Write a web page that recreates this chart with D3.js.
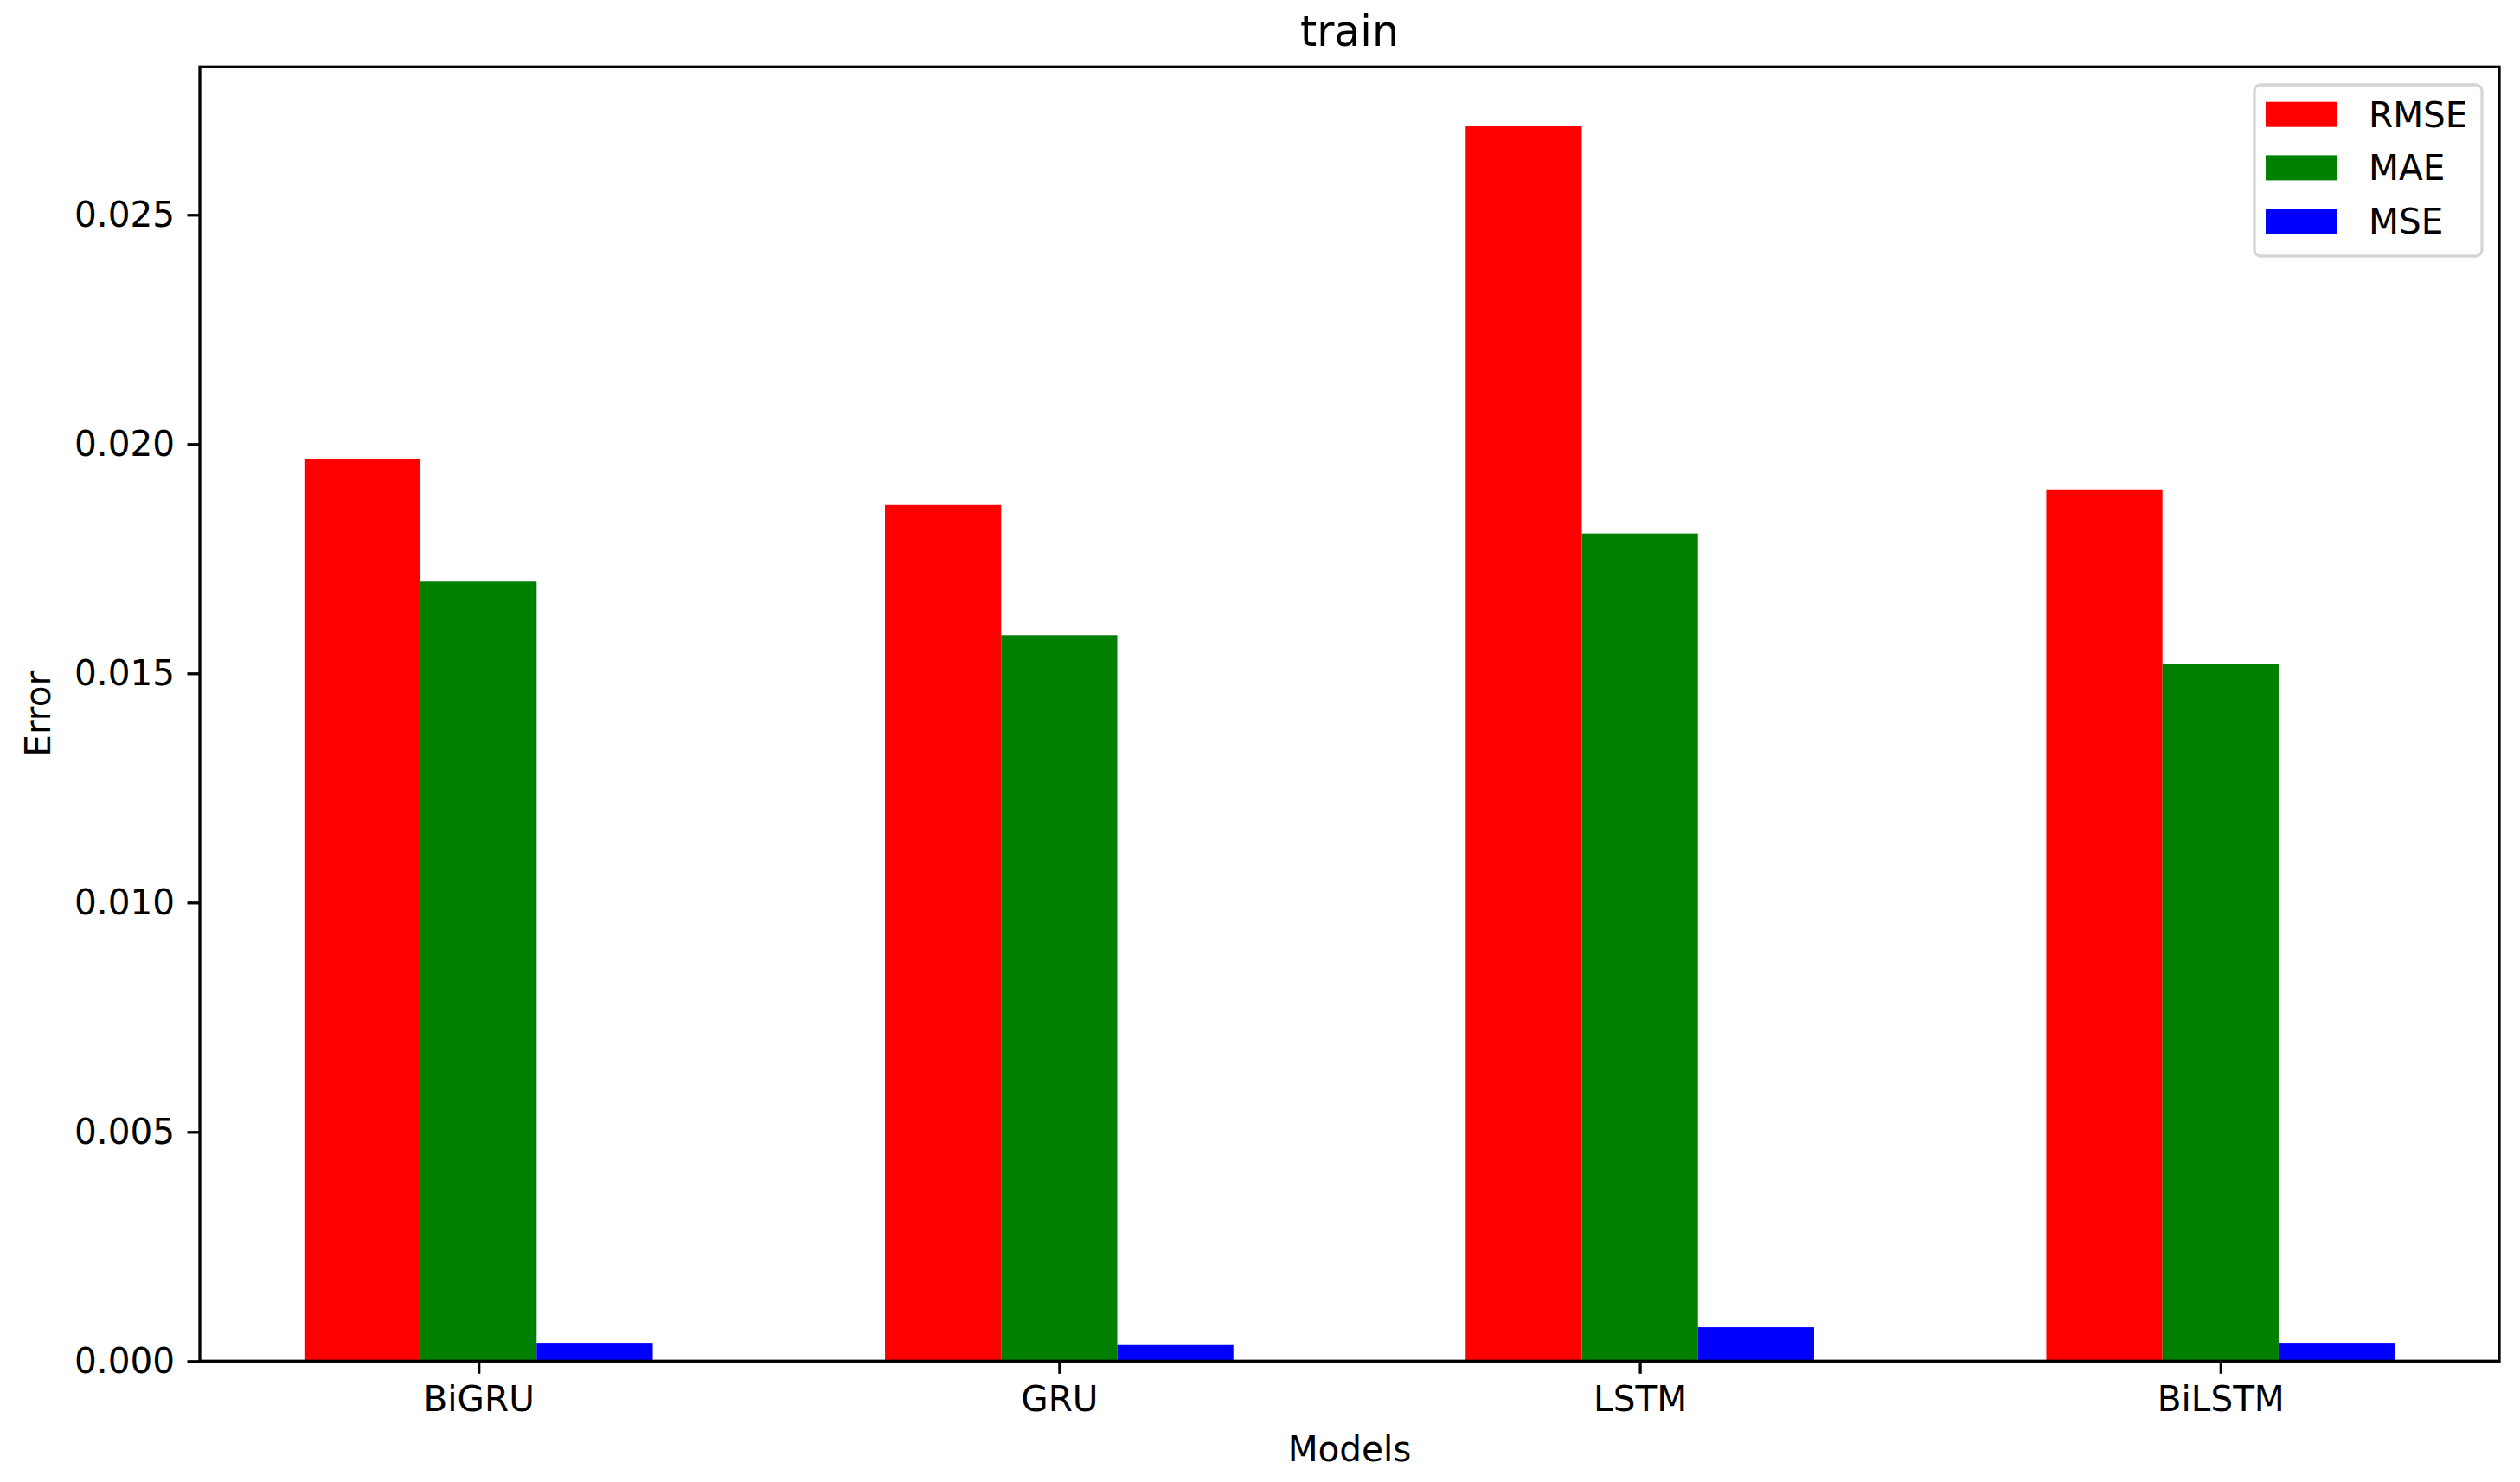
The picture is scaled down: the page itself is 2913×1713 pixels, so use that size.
<!DOCTYPE html>
<html>
<head>
<meta charset="utf-8">
<script src="https://cdn.jsdelivr.net/npm/d3@7"></script>
<style>
  html, body { margin: 0; padding: 0; background: #fff; }
  svg { display: block; font-family: "DejaVu Sans", sans-serif; }
</style>
</head>
<body>
<svg id="chart" width="2913" height="1713"></svg>
<script>
const categories = ["BiGRU", "GRU", "LSTM", "BiLSTM"];
const seriesNames = ["RMSE", "MAE", "MSE"];
const seriesColors = ["#ff0000", "#008000", "#0000ff"];
const rmseValues = [0.01967, 0.01867, 0.02693, 0.01901];
const maeValues = [0.01700, 0.01583, 0.01805, 0.01521];
const mseValues = [0.00040, 0.00035, 0.00074, 0.00040];
const yTicks = [0.000, 0.005, 0.010, 0.015, 0.020, 0.025];
const titleText = "train";
const xLabel = "Models";
const yLabel = "Error";

const series = [rmseValues, maeValues, mseValues];
const offsets = [-0.2, 0, 0.2];
const barW = 0.2;

const svg = d3.select("#chart");
const L = 231, R = 2889, T = 77.3, B = 1573.3;

const x = d3.scaleLinear().domain([-0.48, 3.48]).range([L, R]);
const y = d3.scaleLinear().domain([0, 0.028226]).range([B, T]);

// bars
const g = svg.append("g");
series.forEach((vals, si) => {
  g.selectAll(null)
    .data(vals)
    .enter()
    .append("rect")
    .attr("x", (d, i) => x(i + offsets[si] - barW / 2))
    .attr("width", (d, i) => x(i + offsets[si] + barW / 2) - x(i + offsets[si] - barW / 2))
    .attr("y", d => y(d))
    .attr("height", d => B - y(d))
    .attr("fill", seriesColors[si]);
});

// axes
const fs = 40.5;
const yAxis = d3.axisLeft(y).tickValues(yTicks).tickFormat(d3.format(".3f")).tickSize(14.5).tickPadding(14.5);
const yG = svg.append("g").attr("transform", `translate(${L},0)`).call(yAxis);
yG.select(".domain").remove();
yG.selectAll("line").attr("stroke", "#000").attr("stroke-width", 3.3);
yG.selectAll("text").attr("font-size", fs).attr("fill", "#000").attr("font-family", "DejaVu Sans");

const xAxis = d3.axisBottom(x).tickValues(categories.map((c, i) => i)).tickFormat(i => categories[i]).tickSize(14.5).tickPadding(14.5);
const xG = svg.append("g").attr("transform", `translate(0,${B})`).call(xAxis);
xG.select(".domain").remove();
xG.selectAll("line").attr("stroke", "#000").attr("stroke-width", 3.3);
xG.selectAll("text").attr("font-size", fs).attr("fill", "#000").attr("font-family", "DejaVu Sans");

// frame
svg.append("rect")
  .attr("x", L).attr("y", T).attr("width", R - L).attr("height", B - T)
  .attr("fill", "none").attr("stroke", "#000").attr("stroke-width", 3.3);

// title & labels
svg.append("text").attr("x", (L + R) / 2).attr("y", 53).attr("text-anchor", "middle")
  .attr("font-size", 49).attr("fill", "#000").text(titleText);
svg.append("text").attr("x", (L + R) / 2).attr("y", 1689).attr("text-anchor", "middle")
  .attr("font-size", fs).attr("fill", "#000").text(xLabel);
svg.append("text").attr("transform", `translate(58,${(T + B) / 2}) rotate(-90)`).attr("text-anchor", "middle")
  .attr("font-size", fs).attr("fill", "#000").text(yLabel);

// legend
const lg = svg.append("g");
lg.append("rect").attr("x", 2606).attr("y", 98).attr("width", 263).attr("height", 198)
  .attr("rx", 7).attr("ry", 7).attr("fill", "#fff").attr("fill-opacity", 0.8)
  .attr("stroke", "#d6d6d6").attr("stroke-width", 3.3);
seriesNames.forEach((name, i) => {
  const yy = 117.7 + i * 61.7;
  lg.append("rect").attr("x", 2619).attr("y", yy).attr("width", 83).attr("height", 29).attr("fill", seriesColors[i]);
  lg.append("text").attr("x", 2738).attr("y", yy + 29).attr("font-size", fs).attr("fill", "#000").text(name);
});
</script>
</body>
</html>
